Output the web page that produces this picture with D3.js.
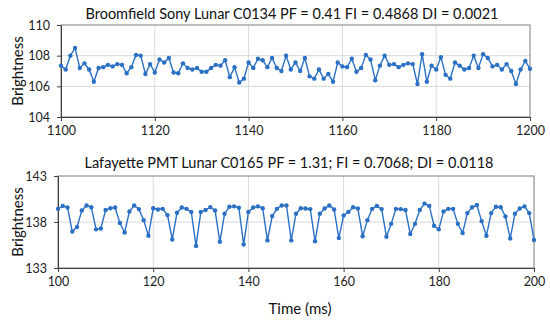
<!DOCTYPE html>
<html>
<head>
<meta charset="utf-8">
<script src="https://cdn.jsdelivr.net/npm/d3@7"></script>
<style>
  body { margin: 0; background: #fff; }
  svg { display: block; font-family: Lato, "Liberation Sans", sans-serif; }
</style>
</head>
<body>
<svg id="chart" width="550" height="321"></svg>
<script>
// top panel: Broomfield Sony, 1100..1200 ms
const topTitle = "Broomfield Sony Lunar C0134 PF = 0.41 FI = 0.4868 DI = 0.0021";
const topStart = 1100;
const topValues = [
  107.35, 107.1, 108.0, 108.5, 107.2, 107.5, 107.1, 106.3, 107.2, 107.25,
  107.4, 107.3, 107.45, 107.4, 106.85, 107.25, 108.05, 108.0, 106.8, 107.45,
  106.9, 107.75, 107.55, 107.85, 106.9, 106.85, 107.5, 107.2, 107.1, 107.2,
  106.95, 106.95, 107.2, 107.4, 107.35, 107.7, 106.6, 107.25, 106.25, 106.5,
  107.55, 107.2, 107.8, 107.7, 107.25, 107.85, 107.2, 107.0, 108.0, 107.1,
  107.55, 107.0, 107.85, 106.65, 106.5, 107.1, 106.5, 106.8, 106.3, 107.55,
  107.3, 107.25, 107.8, 106.95, 107.2, 108.05, 107.75, 106.4, 107.35, 108.0,
  107.4, 107.45, 107.25, 107.4, 107.5, 107.45, 106.15, 108.1, 106.3, 107.35,
  107.1, 107.9, 106.75, 106.5, 107.55, 107.35, 107.1, 107.2, 108.0, 107.2,
  108.1, 107.85, 107.3, 107.4, 107.1, 107.45, 107.0, 106.15, 107.1, 107.65,
  107.15
];
const topXTicks = [1100, 1120, 1140, 1160, 1180, 1200];
const topYTicks = [104, 106, 108, 110];

// bottom panel: Lafayette PMT, 100..200 ms
const botTitle = "Lafayette PMT Lunar C0165 PF = 1.31; FI = 0.7068; DI = 0.0118";
const botStart = 100;
const botValues = [
  139.43, 139.75, 139.57, 136.96, 137.46, 139.25, 139.8, 139.6, 137.2, 137.3,
  139.3, 139.5, 139.57, 137.9, 136.86, 139.14, 139.8, 139.4, 138.2, 136.5,
  139.5, 139.36, 139.43, 138.75, 136.1, 139.0, 139.57, 139.43, 139.1, 135.4,
  139.1, 139.3, 139.62, 139.25, 135.85, 138.9, 139.65, 139.7, 139.55, 135.55,
  139.1, 139.57, 139.7, 139.5, 136.0, 138.65, 139.43, 139.8, 139.8, 136.0,
  138.9, 139.5, 139.46, 139.4, 135.9, 138.9, 139.46, 139.8, 139.36, 136.25,
  138.7, 139.1, 139.6, 139.46, 136.45, 138.2, 139.43, 139.75, 139.4, 136.4,
  137.8, 139.43, 139.4, 139.3, 136.7, 137.8, 139.3, 140.0, 139.75, 137.6,
  137.2, 139.15, 139.43, 139.43, 137.8, 136.8, 138.97, 139.6, 139.85, 138.1,
  136.5, 138.97, 139.65, 139.6, 138.6, 136.2, 138.9, 139.46, 139.7, 138.97,
  136.05
];
const botXTicks = [100, 120, 140, 160, 180, 200];
const botYTicks = [133, 138, 143];

const lineColor = "#2a70c4";
const svg = d3.select("#chart");

function panel(opts) {
  const data = opts.values.map((v, i) => ({ t: opts.start + i, v }));
  const x = d3.scaleLinear().domain(opts.xDomain).range([opts.left, opts.right]);
  const y = d3.scaleLinear().domain(opts.yDomain).range([opts.bottom, opts.top]);
  const g = svg.append("g");

  // gridlines
  g.append("g")
    .selectAll("line.vx")
    .data(opts.xTicks.slice(1, -1))
    .enter().append("line")
    .attr("x1", d => x(d)).attr("x2", d => x(d))
    .attr("y1", opts.top).attr("y2", opts.bottom)
    .attr("stroke", "#d9d9d9");
  g.append("g")
    .selectAll("line.hy")
    .data(opts.yTicks.slice(1, -1))
    .enter().append("line")
    .attr("x1", opts.left).attr("x2", opts.right)
    .attr("y1", d => y(d)).attr("y2", d => y(d))
    .attr("stroke", "#d9d9d9");

  // frame
  g.append("rect")
    .attr("x", opts.left).attr("y", opts.top)
    .attr("width", opts.right - opts.left)
    .attr("height", opts.bottom - opts.top)
    .attr("fill", "none")
    .attr("stroke", "#7f7f7f");

  const fmt = d3.format("d");
  const xAxis = g.append("g")
    .attr("transform", `translate(0,${opts.bottom})`)
    .call(d3.axisBottom(x).tickValues(opts.xTicks).tickFormat(fmt)
      .tickSize(4).tickSizeOuter(0).tickPadding(5));
  const yAxis = g.append("g")
    .attr("transform", `translate(${opts.left},0)`)
    .call(d3.axisLeft(y).tickValues(opts.yTicks).tickFormat(fmt)
      .tickSize(4).tickSizeOuter(0).tickPadding(7));
  [xAxis, yAxis].forEach(a => {
    a.select(".domain").attr("stroke", "#404040");
    a.selectAll(".tick line").attr("stroke", "#404040");
    a.selectAll("text").attr("fill", "#222").style("font-size", "12.5px")
      .style("font-family", "Lato, sans-serif");
  });

  g.append("path")
    .datum(data)
    .attr("fill", "none")
    .attr("stroke", lineColor)
    .attr("stroke-width", 1.4)
    .attr("d", d3.line().x(d => x(d.t)).y(d => y(d.v)));

  g.selectAll("circle")
    .data(data)
    .enter().append("circle")
    .attr("cx", d => x(d.t))
    .attr("cy", d => y(d.v))
    .attr("r", 2.2)
    .attr("fill", lineColor);

  g.append("text")
    .attr("x", opts.titleX)
    .attr("y", opts.titleY)
    .attr("text-anchor", "middle")
    .attr("font-size", "14.5px")
    .attr("fill", "#111")
    .text(opts.title);

  g.append("text")
    .attr("transform", `translate(23,${(opts.top + opts.bottom) / 2}) rotate(-90)`)
    .attr("text-anchor", "middle")
    .attr("font-size", "15px")
    .attr("fill", "#111")
    .text("Brightness");
}

panel({
  title: topTitle, values: topValues, start: topStart,
  xDomain: [1100, 1200], yDomain: [104, 110],
  xTicks: topXTicks, yTicks: topYTicks,
  left: 61, right: 530, top: 25, bottom: 117, titleX: 292, titleY: 19
});

panel({
  title: botTitle, values: botValues, start: botStart,
  xDomain: [100, 200], yDomain: [133, 143],
  xTicks: botXTicks, yTicks: botYTicks,
  left: 58, right: 534, top: 176, bottom: 268, titleX: 289, titleY: 168
});

svg.append("text")
  .attr("x", 300)
  .attr("y", 314)
  .attr("text-anchor", "middle")
  .attr("font-size", "15px")
  .attr("fill", "#111")
  .text("Time (ms)");
</script>
</body>
</html>
